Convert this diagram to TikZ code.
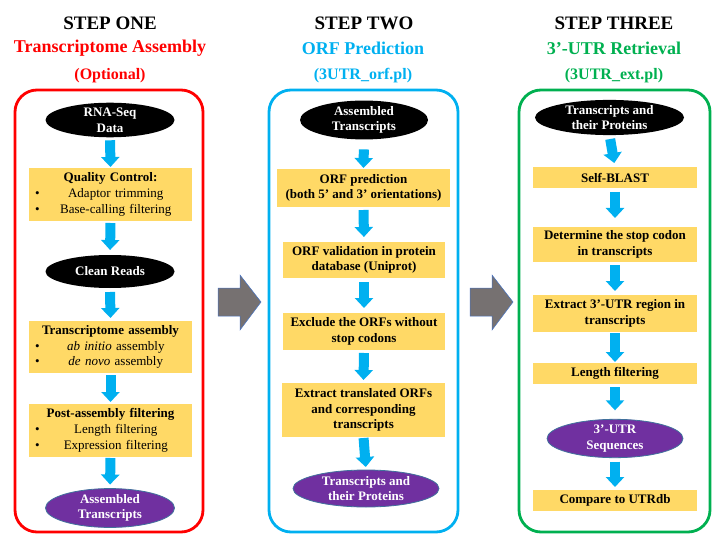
\documentclass[tikz,border=0pt]{standalone}
\usepackage{fontspec}
\setmainfont{Liberation Serif}
\usetikzlibrary{arrows.meta,shapes.geometric}
\definecolor{boxyellow}{HTML}{FFD966}
\definecolor{arrowblue}{HTML}{00B0F0}
\definecolor{stepred}{HTML}{FF0000}
\definecolor{stepcyan}{HTML}{00B0F0}
\definecolor{stepgreen}{HTML}{00B050}
\definecolor{purplefill}{HTML}{7030A0}
\definecolor{purpleedge}{HTML}{41719C}
\definecolor{graybody}{HTML}{767171}
\definecolor{grayedge}{HTML}{4472C4}
\newcommand\bxfont{\fontsize{13}{15.7}\selectfont\bfseries}
\newcommand\hdfont{\fontsize{19}{22}\selectfont\bfseries}
\newcommand\sbfont{\fontsize{18}{22}\selectfont\bfseries}
\newcommand\scfont{\fontsize{16}{19}\selectfont\bfseries}
\newcommand\blitem[1]{\makebox[163pt][l]{\mdseries\hspace{6pt}\textbullet\hfill #1\hfill\hspace{0pt}}}
\tikzset{
  every node/.style={outer sep=0pt},
  ybox/.style={rectangle, fill=boxyellow, inner sep=0pt, align=center, font=\bxfont},
  blackell/.style={ellipse, fill=black, text=white, inner sep=0pt, align=center, font=\bxfont},
  purpell/.style={ellipse, fill=purplefill, draw=purpleedge, line width=0.8pt, text=white, inner sep=0pt, align=center, font=\bxfont},
  barrow/.style={draw=arrowblue, line width=10pt, -{Triangle[width=18pt,length=10pt]}, arrowblue},
  panel/.style={rounded corners=22pt, line width=2.8pt},
  grayarrow/.style={fill=graybody, draw=grayedge, line width=0.5pt},
}
\newcommand\barr[4]{\draw[barrow, shorten <=#3pt, shorten >=#4pt] (#1.south) -- (#2.north);}
\begin{document}
\begin{tikzpicture}[x=1pt,y=-1pt]
\useasboundingbox (0,0) rectangle (720,548);
% panels
\draw[panel, draw=stepred] (15,90) rectangle (203,532);
\draw[panel, draw=stepcyan] (269,90) rectangle (458,532);
\draw[panel, draw=stepgreen] (519,90) rectangle (710,532);
% headers
\node[font=\hdfont] (h1) at (110,23) {STEP ONE};
\node[font=\sbfont, text=stepred] (s1) at (110,48) {Transcriptome Assembly};
\node[font=\scfont, text=stepred] (c1) at (110,76) {(Optional)};
\node[font=\hdfont] (h2) at (364,23) {STEP TWO};
\node[font=\sbfont, text=stepcyan] (s2) at (363,48) {ORF Prediction};
\node[font=\scfont, text=stepcyan] (c2) at (363,76) {(3UTR\_orf.pl)};
\node[font=\hdfont] (h3) at (614,23) {STEP THREE};
\node[font=\sbfont, text=stepgreen] (s3) at (614,48) {3’-UTR Retrieval};
\node[font=\scfont, text=stepgreen] (c3) at (614,76) {(3UTR\_ext.pl)};
% step one
\node[blackell, minimum width=129pt, minimum height=34pt] (rna) at (110,120) {RNA-Seq\\Data};
\node[ybox, text width=163pt, minimum height=53pt] (qc) at (110.5,194.5) {Quality Control:\\\blitem{Adaptor trimming}\\\blitem{Base-calling filtering}};
\node[blackell, minimum width=129pt, minimum height=33pt] (clean) at (110,271.5) {Clean Reads};
\node[ybox, text width=163pt, minimum height=52pt] (ta) at (110.5,347) {Transcriptome assembly\\\blitem{\textit{ab initio} assembly}\\\blitem{\textit{de novo} assembly}};
\node[ybox, text width=163pt, minimum height=53pt] (pa) at (110.5,430.5) {Post-assembly filtering\\\blitem{Length filtering}\\\blitem{Expression filtering}};
\node[purpell, minimum width=129pt, minimum height=38pt] (asm) at (110,508) {Assembled\\Transcripts};
\barr{rna}{qc}{3}{1}
\barr{qc}{clean}{2}{5}
\barr{clean}{ta}{4}{3}
\barr{ta}{pa}{2}{2}
\barr{pa}{asm}{1}{4}
% step two
\node[blackell, minimum width=128pt, minimum height=31pt] (at) at (364,120) {Assembled\\Transcripts};
\node[ybox, minimum width=173pt, minimum height=38pt] (orf) at (363.5,188) {ORF prediction\\(both 5’ and 3’ orientations)};
\node[ybox, minimum width=162pt, minimum height=36pt] (val) at (364,260) {ORF validation in protein\\database (Uniprot)};
\node[ybox, minimum width=162pt, minimum height=37pt] (exc) at (364,331.5) {Exclude the ORFs without\\stop codons};
\node[ybox, minimum width=163pt, minimum height=54pt] (ext) at (363.5,410) {Extract translated ORFs\\and corresponding\\transcripts};
\node[purpell, minimum width=146pt, minimum height=37pt] (tp) at (366,488.5) {Transcripts and\\their Proteins};
\barr{at}{orf}{10}{1}
\barr{orf}{val}{3}{5}
\barr{val}{exc}{4}{5}
\barr{exc}{ext}{3}{3}
\barr{ext}{tp}{1}{3}
% step three
\node[blackell, minimum width=149pt, minimum height=31pt] (tp3) at (609.5,117.5) {Transcripts and\\their Proteins};
\node[ybox, minimum width=164pt, minimum height=21pt] (sb) at (615,177.5) {Self-BLAST};
\node[ybox, minimum width=164pt, minimum height=35pt] (det) at (615,244.5) {Determine the stop codon\\in transcripts};
\node[ybox, minimum width=164pt, minimum height=37pt] (ex3) at (615,313.5) {Extract 3’-UTR region in\\transcripts};
\node[ybox, minimum width=164pt, minimum height=21pt] (len) at (615,373.5) {Length filtering};
\node[purpell, minimum width=136pt, minimum height=33pt] (utr) at (615,438.5) {3’-UTR\\Sequences};
\node[ybox, minimum width=164pt, minimum height=21pt] (cmp) at (615,500.5) {Compare to UTRdb};
\barr{tp3}{sb}{4}{4}
\barr{sb}{det}{4}{9}
\barr{det}{ex3}{3}{4}
\barr{ex3}{len}{1}{1}
\barr{len}{utr}{3}{9}
\barr{utr}{cmp}{4}{3}
% gray arrows between steps
\draw[grayarrow] (218,288) -- (240,288) -- (240,275) -- (261,302) -- (240,330) -- (240,316) -- (218,316) -- cycle;
\draw[grayarrow] (470,288) -- (492,288) -- (492,275) -- (513,302) -- (492,330) -- (492,316) -- (470,316) -- cycle;
\end{tikzpicture}
\end{document}
